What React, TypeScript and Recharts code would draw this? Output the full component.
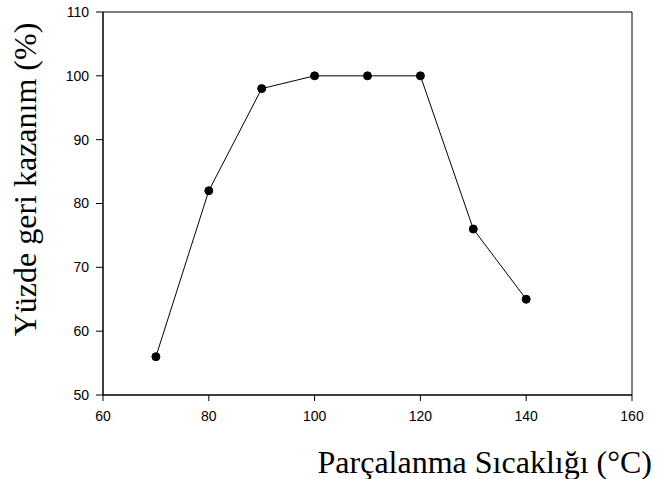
import { LineChart, Line, XAxis, YAxis, ReferenceArea } from "recharts";

const temps = [70, 80, 90, 100, 110, 120, 130, 140];
const recovery = [56, 82, 98, 100, 100, 100, 76, 65];
const xTicks = [60, 80, 100, 120, 140, 160];
const yTicks = [50, 60, 70, 80, 90, 100, 110];

const data = temps.map((t, i) => ({ t, v: recovery[i] }));

const tickStyle = { fontFamily: "'Liberation Sans', Arial, sans-serif", fontSize: 14, fill: "#000" };
const labelFont = "'Liberation Serif', 'Times New Roman', serif";

const App = () => {
  return (
    <div style={{ position: "absolute", left: 0, top: 0, background: "#fff" }}>
      <LineChart width={660} height={479} data={data} margin={{ top: 12, right: 28, left: 0, bottom: 0 }}>
        <ReferenceArea x1={60} x2={160} y1={50} y2={110} fill="none" stroke="#000" strokeWidth={1} />
        <XAxis
          dataKey="t"
          type="number"
          domain={[60, 160]}
          ticks={xTicks}
          height={84}
          axisLine={{ stroke: "#000" }}
          tickLine={{ stroke: "#000" }}
          tickSize={6}
          tickMargin={10}
          tick={tickStyle}
          label={{
            value: "Parçalanma Sıcaklığı (°C)",
            position: "insideBottomRight",
            offset: 0,
            dx: 20,
            dy: -6,
            style: { fontFamily: labelFont, fontSize: 32, fill: "#000" },
          }}
        />
        <YAxis
          type="number"
          domain={[50, 110]}
          ticks={yTicks}
          width={103}
          axisLine={{ stroke: "#000" }}
          tickLine={{ stroke: "#000" }}
          tickSize={7}
          tickMargin={7}
          tick={tickStyle}
          label={{
            value: "Yüzde geri kazanım (%)",
            position: "insideLeft",
            angle: -90,
            offset: 25,
            dy: -24,
            style: { fontFamily: labelFont, fontSize: 32, fill: "#000", textAnchor: "middle" },
          }}
        />
        <Line
          dataKey="v"
          stroke="#000"
          strokeWidth={1}
          dot={{ r: 4, fill: "#000", stroke: "#000" }}
          activeDot={false}
          isAnimationActive={false}
        />
      </LineChart>
    </div>
  );
};

export default App;
